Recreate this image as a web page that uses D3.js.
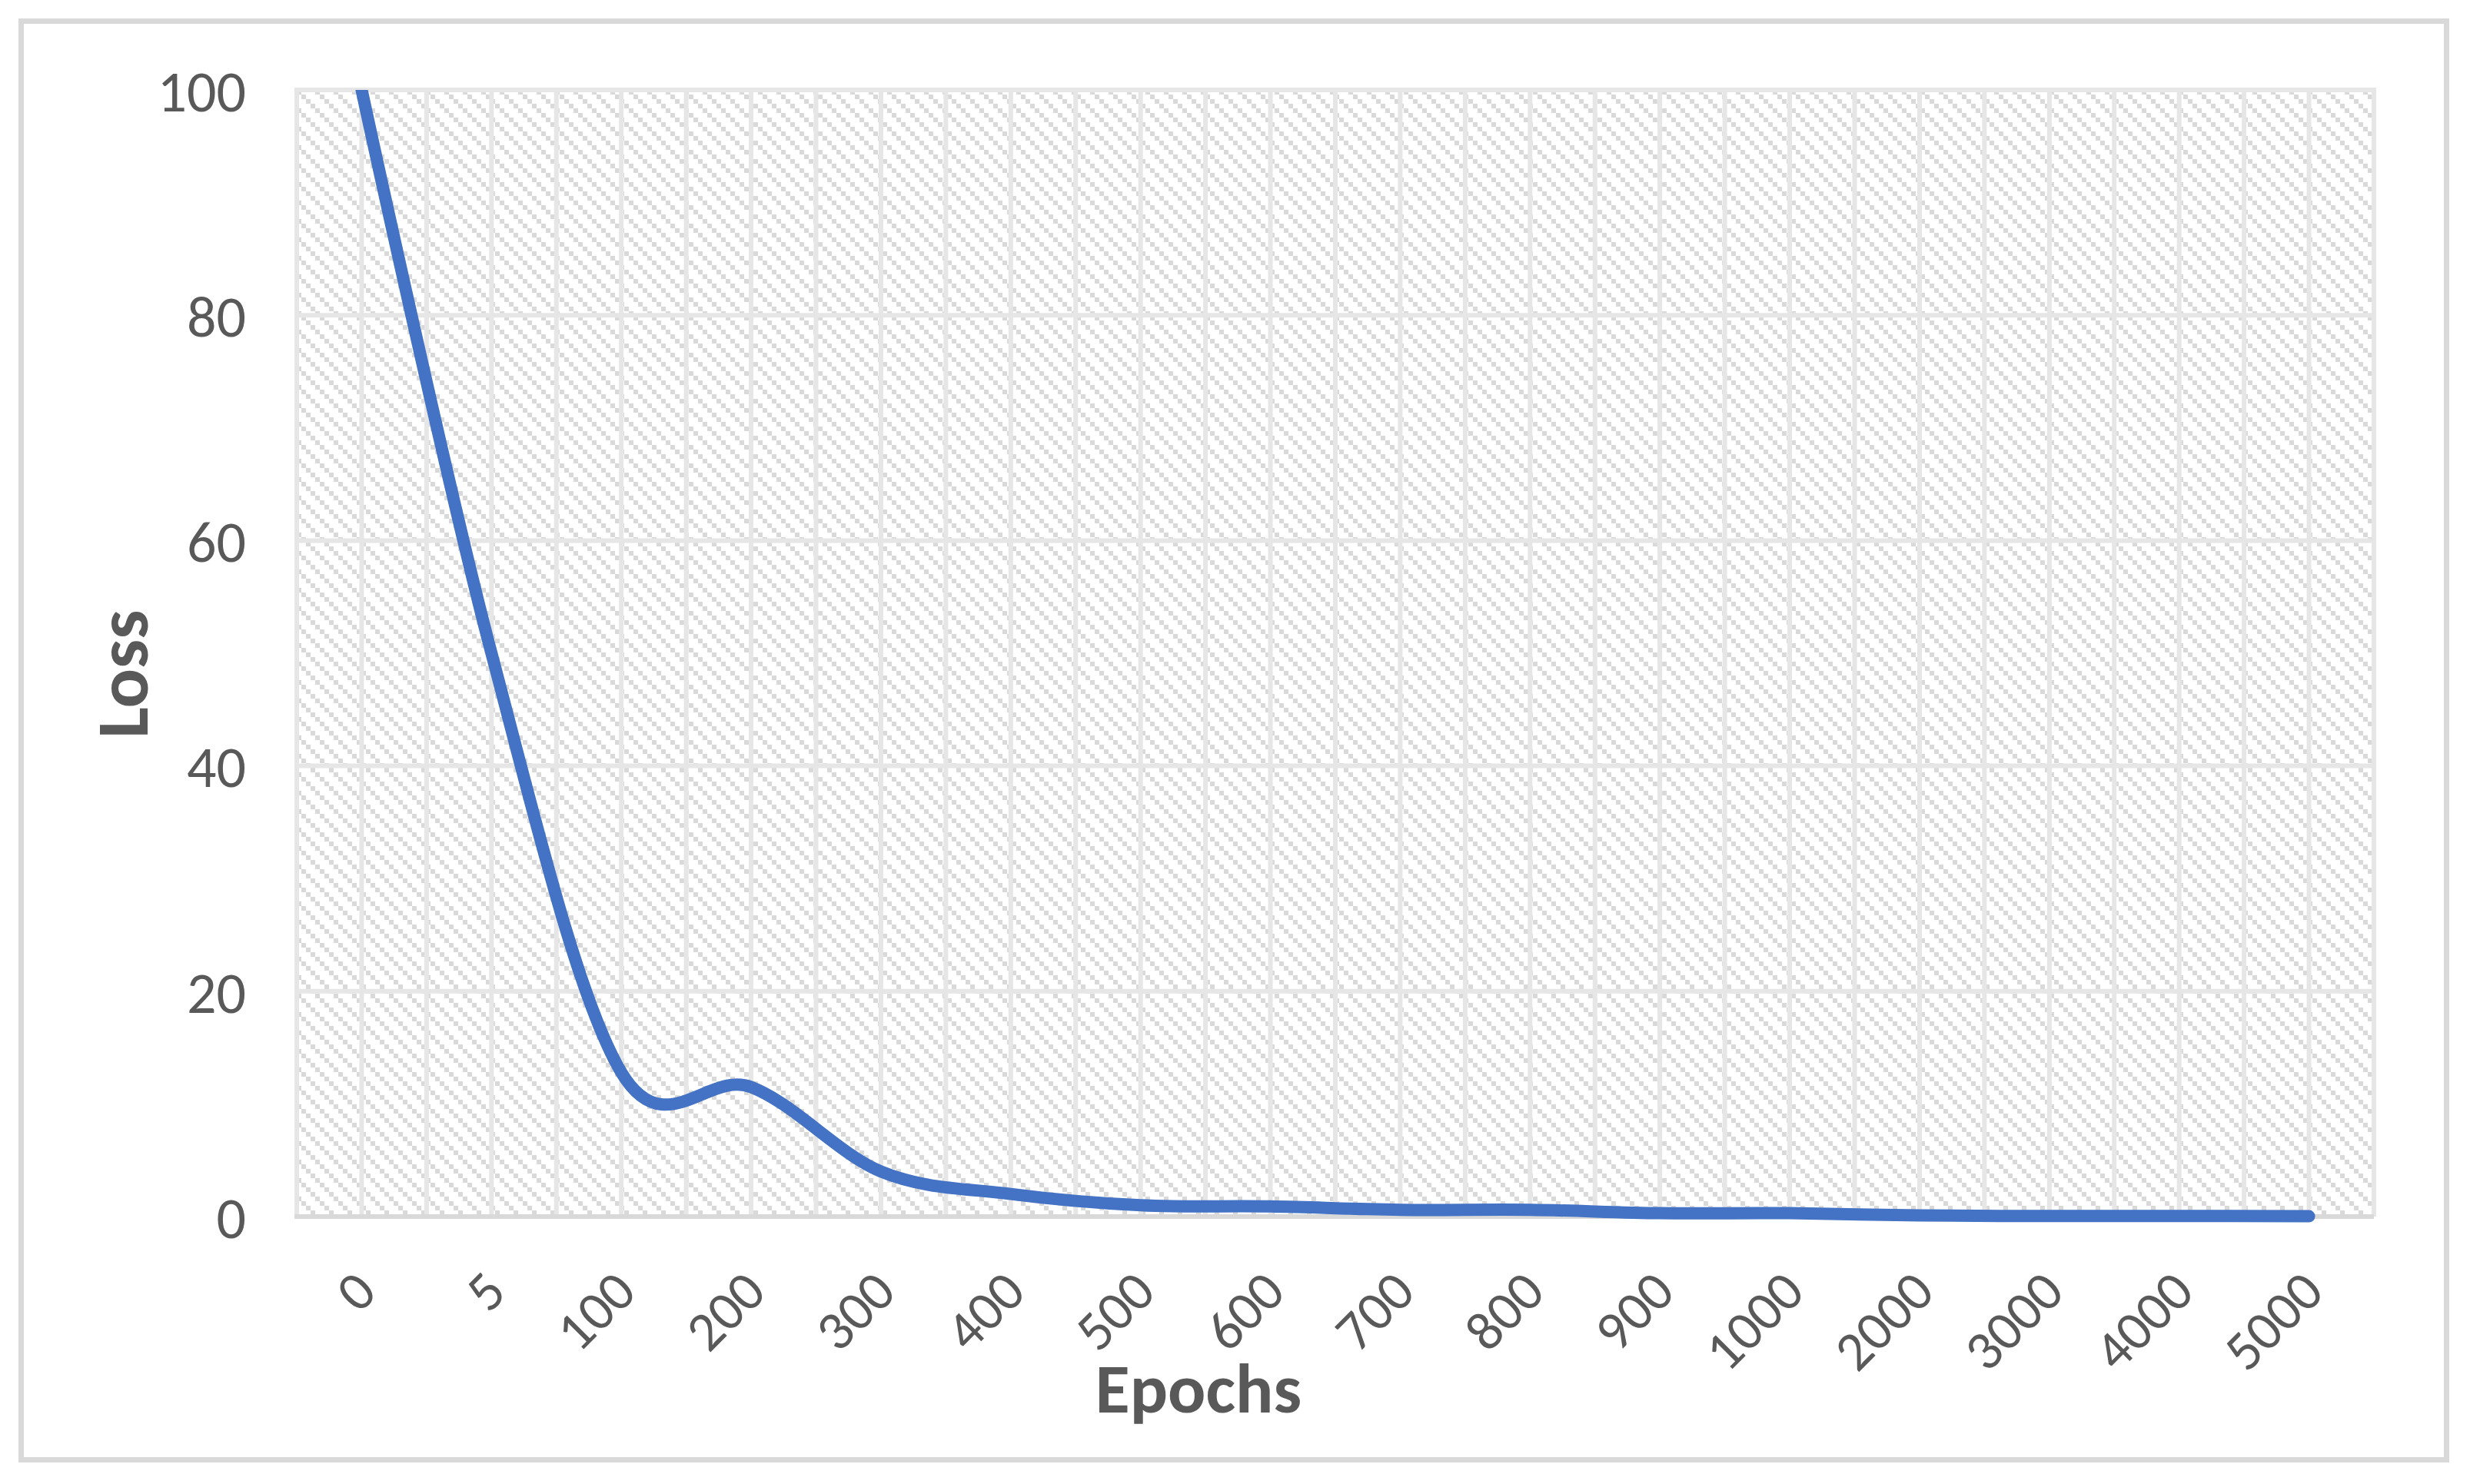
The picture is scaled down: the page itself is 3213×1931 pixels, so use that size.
<!DOCTYPE html>
<html>
<head>
<meta charset="utf-8">
<script src="https://cdn.jsdelivr.net/npm/d3@7"></script>
<style>
  html, body { margin: 0; padding: 0; background: #ffffff; }
  svg { display: block; }
</style>
</head>
<body>
<script>
// ---- data ----
const categories = ["0","5","100","200","300","400","500","600","700","800","900","1000","2000","3000","4000","5000"];
const loss = [100, 50, 12.8, 11.5, 4.0, 2.0, 1.0, 0.9, 0.6, 0.6, 0.3, 0.3, 0.1, 0.05, 0.05, 0.03];
const yTicks = [0, 20, 40, 60, 80, 100];
const xTitle = "Epochs";
const yTitle = "Loss";

// ---- layout ----
const W = 3213, H = 1931;
const plot = { left: 386, right: 3088, top: 117, bottom: 1583 };
const textColor = "#595959";
const font = "Calibri, Carlito, Lato, sans-serif";

const svg = d3.select("body").append("svg")
  .attr("width", W).attr("height", H)
  .attr("viewBox", `0 0 ${W} ${H}`);

const defs = svg.append("defs");
const pat = defs.append("pattern")
  .attr("id", "hatch")
  .attr("patternUnits", "userSpaceOnUse")
  .attr("x", plot.left).attr("y", plot.top)
  .attr("width", 24).attr("height", 24);
pat.append("rect").attr("width", 24).attr("height", 24).attr("fill", "#ffffff");
[0, 6, 12, 18].forEach(o => {
  pat.append("rect").attr("x", o).attr("y", o).attr("width", 6).attr("height", 6).attr("fill", "#d9d9d9");
});
defs.append("clipPath").attr("id", "plotClip")
  .append("rect")
  .attr("x", plot.left - 40).attr("y", plot.top)
  .attr("width", plot.right - plot.left + 80).attr("height", plot.bottom - plot.top + 40);

// chart background + border
svg.append("rect").attr("x", 0).attr("y", 0).attr("width", W).attr("height", H).attr("fill", "#ffffff");
svg.append("rect")
  .attr("x", 27.5).attr("y", 27.5).attr("width", 3155).attr("height", 1872)
  .attr("fill", "none").attr("stroke", "#d9d9d9").attr("stroke-width", 7);

// scales
const x = d3.scaleBand().domain(categories).range([plot.left, plot.right]).paddingInner(0).paddingOuter(0);
const bw = x.bandwidth();
const cx = c => x(c) + bw / 2;
const y = d3.scaleLinear().domain([0, 100]).range([plot.bottom, plot.top]);

// plot area pattern
svg.append("rect")
  .attr("x", plot.left).attr("y", plot.top)
  .attr("width", plot.right - plot.left).attr("height", plot.bottom - plot.top)
  .attr("fill", "url(#hatch)");

// vertical gridlines (band edges and band centers)
const vPos = [];
categories.forEach(c => { vPos.push(x(c)); vPos.push(cx(c)); });
vPos.push(plot.right);
svg.append("g").selectAll("line").data(vPos).join("line")
  .attr("x1", d => d).attr("x2", d => d)
  .attr("y1", plot.top).attr("y2", plot.bottom)
  .attr("stroke", "#e6e6e6").attr("stroke-width", 6);

// horizontal gridlines
svg.append("g").selectAll("line").data(yTicks.filter(t => t > 0)).join("line")
  .attr("x1", plot.left - 3).attr("x2", plot.right + 3)
  .attr("y1", d => y(d)).attr("y2", d => y(d))
  .attr("stroke", "#e6e6e6").attr("stroke-width", 6);

// x axis line
svg.append("line")
  .attr("x1", plot.left - 3).attr("x2", plot.right)
  .attr("y1", y(0)).attr("y2", y(0))
  .attr("stroke", "#d9d9d9").attr("stroke-width", 6);

// y axis labels
const yAxis = d3.axisLeft(y).tickValues(yTicks).tickSize(0).tickPadding(0).tickFormat(d3.format("d"));
const gy = svg.append("g").attr("transform", `translate(320,0)`).call(yAxis);
gy.select(".domain").remove();
gy.selectAll("text")
  .attr("x", 0)
  .attr("dy", "0.36em")
  .attr("fill", textColor)
  .style("font-family", font)
  .style("font-size", "76px");

// x axis labels (rotated -45)
const xAxis = d3.axisBottom(x).tickSize(0).tickPadding(0);
const gx = svg.append("g").call(xAxis);
gx.select(".domain").remove();
gx.selectAll(".tick").attr("transform", d => `translate(${cx(d) + 4},1666)`);
gx.selectAll("text")
  .attr("x", 0).attr("y", 0).attr("dy", "0.36em")
  .attr("text-anchor", "end")
  .attr("transform", "rotate(-45)")
  .attr("fill", textColor)
  .style("font-family", font)
  .style("font-size", "72px");

// line
const line = d3.line()
  .x((d, i) => cx(categories[i]))
  .y(d => y(d))
  .curve(d3.curveCardinal.tension(0));
svg.append("path")
  .datum(loss)
  .attr("d", line)
  .attr("clip-path", "url(#plotClip)")
  .attr("fill", "none")
  .attr("stroke", "#4472c4")
  .attr("stroke-width", 16)
  .attr("stroke-linecap", "round")
  .attr("stroke-linejoin", "round");

// titles
svg.append("text")
  .attr("x", 1559).attr("y", 1838)
  .attr("text-anchor", "middle")
  .attr("fill", textColor)
  .style("font-family", font)
  .style("font-weight", "bold")
  .style("font-size", "92px")
  .text(xTitle);

svg.append("text")
  .attr("transform", "translate(192,877) rotate(-90)")
  .attr("text-anchor", "middle")
  .attr("fill", textColor)
  .style("font-family", font)
  .style("font-weight", "bold")
  .style("font-size", "96px")
  .text(yTitle);
</script>
</body>
</html>
